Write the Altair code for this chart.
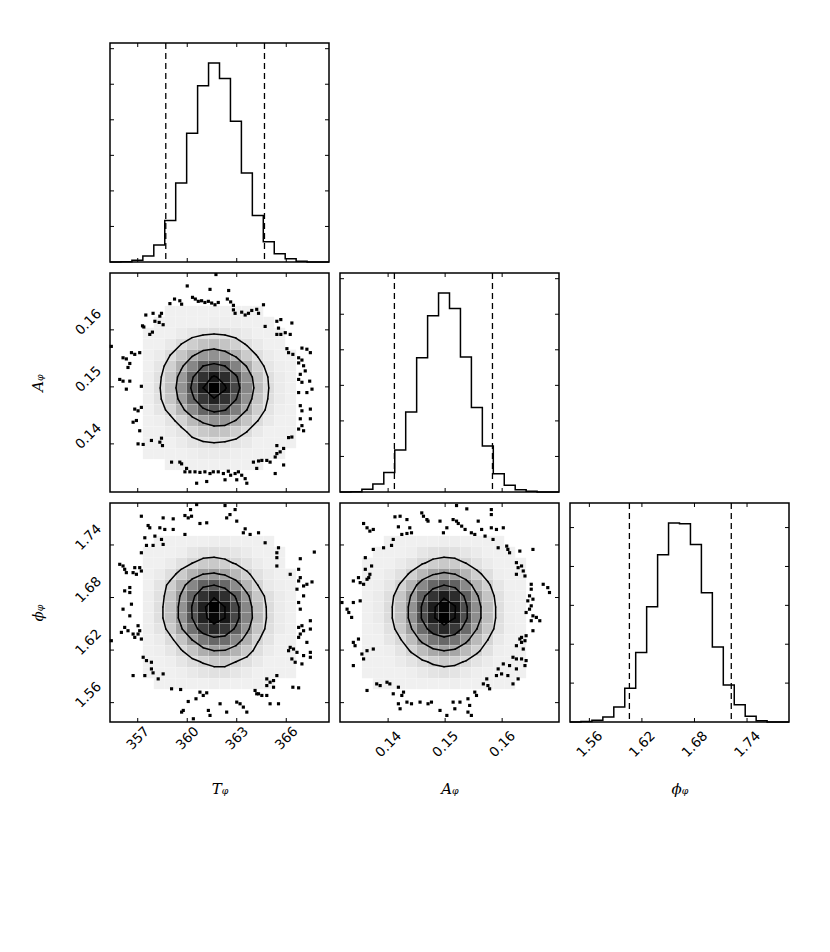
import altair as alt
import numpy as np
import pandas as pd

# ---------------- data ----------------
T_range = [355.32, 368.59]
A_range = [0.13156, 0.16997]
P_range = [1.5379, 1.7879]

T_ticks = [357, 360, 363, 366]
A_ticks = [0.14, 0.15, 0.16]
P_ticks = [1.56, 1.62, 1.68, 1.74]

T_title = "Tᵩ"
A_title = "Aᵩ"
P_title = "ϕᵩ"

T_counts = [0, 10, 50, 170, 480, 1170, 2220, 3620, 4960, 5600, 5160, 3960, 2500, 1310, 570, 230, 90, 20, 0, 0]
A_counts = [0, 10, 75, 225, 545, 1180, 2250, 3775, 4960, 5600, 5160, 3800, 2375, 1295, 515, 190, 65, 20, 0, 0]
P_counts = [0, 10, 45, 130, 385, 870, 1785, 2965, 4300, 5120, 5100, 4565, 3325, 1930, 950, 445, 145, 35, 0, 0]

T_quantiles = [358.70, 364.68]
A_quantiles = [0.1411, 0.1583]
P_quantiles = [1.6057, 1.7220]

# 2-D histogram darkness (percent of peak); rows top -> bottom, columns left -> right
grid_TA = [
    [0] * 20,
    [0] * 20,
    [0] * 20,
    [0, 0, 0, 0, 0, 2, 2, 2, 2, 2, 2, 2, 2, 2, 0, 0, 0, 0, 0, 0],
    [0, 0, 0, 0, 2, 2, 2, 2, 2, 3, 3, 3, 2, 2, 2, 0, 0, 0, 0, 0],
    [0, 0, 0, 2, 2, 2, 4, 6, 8, 9, 8, 6, 4, 2, 2, 2, 0, 0, 0, 0],
    [0, 0, 0, 2, 2, 5, 10, 16, 21, 23, 20, 15, 9, 5, 2, 2, 0, 0, 0, 0],
    [0, 0, 0, 2, 4, 10, 19, 29, 38, 41, 37, 28, 17, 9, 4, 2, 2, 0, 0, 0],
    [0, 0, 0, 2, 6, 15, 28, 45, 62, 68, 62, 47, 30, 15, 6, 3, 2, 0, 0, 0],
    [0, 0, 0, 3, 8, 19, 37, 60, 80, 90, 82, 65, 41, 21, 9, 4, 2, 0, 0, 0],
    [0, 0, 0, 3, 9, 21, 40, 65, 88, 100, 90, 71, 45, 23, 10, 4, 2, 0, 0, 0],
    [0, 0, 0, 3, 8, 19, 36, 58, 78, 87, 80, 63, 40, 20, 9, 4, 2, 0, 0, 0],
    [0, 0, 0, 2, 6, 13, 26, 43, 59, 67, 63, 49, 31, 16, 7, 3, 2, 0, 0, 0],
    [0, 0, 0, 2, 3, 7, 14, 24, 34, 40, 39, 30, 20, 10, 5, 2, 2, 0, 0, 0],
    [0, 0, 0, 2, 2, 4, 7, 13, 18, 21, 20, 16, 10, 5, 2, 2, 2, 0, 0, 0],
    [0, 0, 0, 2, 2, 2, 4, 7, 9, 10, 9, 7, 5, 2, 2, 2, 2, 0, 0, 0],
    [0, 0, 0, 2, 2, 2, 2, 3, 4, 4, 4, 3, 2, 2, 2, 2, 0, 0, 0, 0],
    [0, 0, 0, 0, 0, 2, 2, 2, 2, 2, 2, 2, 2, 2, 0, 0, 0, 0, 0, 0],
    [0] * 20,
    [0] * 20,
]

grid_TP = [
    [0] * 20,
    [0] * 20,
    [0] * 20,
    [0, 0, 0, 0, 2, 2, 2, 2, 2, 3, 3, 2, 2, 2, 2, 0, 0, 0, 0, 0],
    [0, 0, 0, 2, 2, 2, 3, 6, 8, 9, 8, 6, 4, 2, 2, 2, 0, 0, 0, 0],
    [0, 0, 0, 2, 2, 4, 8, 13, 17, 18, 16, 12, 8, 4, 2, 2, 0, 0, 0, 0],
    [0, 0, 0, 2, 4, 9, 17, 27, 35, 37, 33, 25, 15, 8, 4, 2, 2, 0, 0, 0],
    [0, 0, 0, 2, 7, 16, 29, 45, 60, 64, 57, 43, 26, 13, 5, 3, 2, 0, 0, 0],
    [0, 0, 0, 3, 8, 19, 37, 59, 80, 88, 81, 62, 39, 19, 9, 4, 2, 0, 0, 0],
    [0, 0, 0, 3, 9, 21, 40, 65, 87, 100, 90, 71, 45, 23, 10, 4, 2, 0, 0, 0],
    [0, 0, 0, 3, 9, 21, 40, 64, 86, 97, 90, 71, 46, 24, 10, 4, 2, 0, 0, 0],
    [0, 0, 0, 3, 7, 17, 33, 54, 74, 84, 78, 61, 39, 20, 9, 4, 2, 0, 0, 0],
    [0, 0, 0, 2, 4, 10, 20, 35, 50, 58, 56, 44, 28, 14, 7, 2, 2, 0, 0, 0],
    [0, 0, 0, 2, 3, 6, 12, 20, 29, 35, 34, 27, 18, 9, 4, 2, 2, 0, 0, 0],
    [0, 0, 0, 2, 2, 3, 6, 10, 14, 17, 17, 13, 9, 5, 2, 2, 2, 0, 0, 0],
    [0, 0, 0, 2, 2, 2, 3, 5, 7, 8, 8, 6, 4, 2, 2, 2, 2, 0, 0, 0],
    [0, 0, 0, 0, 2, 2, 2, 2, 2, 3, 2, 2, 2, 2, 2, 0, 0, 0, 0, 0],
    [0] * 20,
    [0] * 20,
    [0] * 20,
]

grid_AP = [
    [0] * 20,
    [0] * 20,
    [0] * 20,
    [0, 0, 0, 0, 2, 2, 2, 2, 2, 3, 3, 2, 2, 2, 2, 0, 0, 0, 0, 0],
    [0, 0, 0, 2, 2, 2, 3, 6, 8, 9, 8, 6, 4, 2, 2, 2, 0, 0, 0, 0],
    [0, 0, 2, 2, 2, 4, 7, 12, 16, 18, 17, 13, 8, 4, 2, 2, 2, 0, 0, 0],
    [0, 0, 2, 2, 4, 8, 15, 25, 34, 38, 35, 26, 16, 9, 3, 2, 2, 0, 0, 0],
    [0, 0, 2, 3, 6, 14, 26, 44, 58, 65, 60, 44, 27, 15, 6, 2, 2, 0, 0, 0],
    [0, 0, 2, 4, 9, 19, 36, 60, 79, 88, 82, 61, 37, 20, 8, 3, 2, 0, 0, 0],
    [0, 0, 2, 4, 10, 21, 40, 67, 88, 98, 91, 68, 42, 23, 9, 3, 2, 0, 0, 0],
    [0, 0, 2, 4, 10, 21, 40, 67, 88, 100, 90, 68, 42, 23, 9, 3, 2, 0, 0, 0],
    [0, 0, 2, 3, 8, 18, 34, 56, 75, 84, 77, 57, 35, 19, 8, 3, 2, 0, 0, 0],
    [0, 0, 2, 2, 6, 12, 23, 39, 52, 58, 53, 39, 24, 13, 5, 2, 2, 0, 0, 0],
    [0, 0, 2, 2, 3, 7, 14, 23, 31, 35, 32, 24, 15, 8, 3, 2, 2, 0, 0, 0],
    [0, 0, 2, 2, 2, 4, 7, 11, 15, 17, 16, 12, 7, 4, 2, 2, 2, 0, 0, 0],
    [0, 0, 2, 2, 2, 2, 3, 5, 7, 8, 7, 5, 3, 2, 2, 2, 2, 0, 0, 0],
    [0, 0, 0, 2, 2, 2, 2, 2, 2, 2, 3, 2, 2, 2, 2, 2, 0, 0, 0, 0],
    [0] * 20,
    [0] * 20,
    [0] * 20,
]

# outlying samples (x, y) in data units
TA_points = [
    (361.74, 0.1697), (360.00, 0.1677), (361.38, 0.1671), (362.51, 0.1669), (359.23, 0.1654), (359.55, 0.1651),
    (359.66, 0.1645), (358.95, 0.1646), (360.32, 0.1657), (360.49, 0.1654), (360.67, 0.1650), (360.87, 0.1651),
    (361.07, 0.1648), (361.28, 0.1650), (361.48, 0.1647), (361.68, 0.1644), (361.88, 0.1648), (362.43, 0.1654),
    (362.63, 0.1649), (362.80, 0.1643), (362.80, 0.1635), (362.90, 0.1629), (363.30, 0.1631), (363.51, 0.1626),
    (363.71, 0.1629), (363.91, 0.1634), (364.21, 0.1636), (364.32, 0.1629), (364.62, 0.1644), (364.72, 0.1606),
    (357.49, 0.1626), (357.93, 0.1629), (358.34, 0.1624), (358.44, 0.1629), (358.04, 0.1615), (358.30, 0.1613),
    (358.54, 0.1609), (357.29, 0.1607), (357.37, 0.1605), (357.73, 0.1592), (357.89, 0.1596),
    (365.43, 0.1615), (365.67, 0.1618), (366.34, 0.1612), (365.53, 0.1603), (365.43, 0.1592), (365.67, 0.1592),
    (365.94, 0.1595), (366.24, 0.1592),
    (366.04, 0.1567), (366.14, 0.1560), (366.40, 0.1557), (366.95, 0.1568), (367.25, 0.1566), (367.46, 0.1560),
    (366.75, 0.1551), (366.95, 0.1547), (366.75, 0.1542), (367.05, 0.1537), (367.15, 0.1528), (366.85, 0.1522),
    (366.75, 0.1513), (366.95, 0.1508), (367.42, 0.1510), (367.56, 0.1496), (367.25, 0.1490), (366.75, 0.1490),
    (366.85, 0.1467), (366.95, 0.1458), (367.46, 0.1461), (366.85, 0.1444), (367.46, 0.1444), (366.95, 0.1432),
    (366.75, 0.1426), (367.05, 0.1423),
    (355.40, 0.1571), (356.11, 0.1551), (356.31, 0.1549), (356.52, 0.1541), (356.62, 0.1560), (356.82, 0.1557),
    (357.12, 0.1560), (356.41, 0.1534), (355.91, 0.1513), (356.11, 0.1510), (356.52, 0.1510), (356.31, 0.1496),
    (357.22, 0.1501), (356.82, 0.1461), (357.02, 0.1458), (357.22, 0.1464), (356.72, 0.1438), (356.92, 0.1441),
    (357.12, 0.1423), (357.02, 0.1400), (357.33, 0.1399), (357.83, 0.1406), (358.34, 0.1403), (358.50, 0.1397),
    (358.44, 0.1410),
    (359.05, 0.1368), (359.55, 0.1368), (359.66, 0.1365), (359.96, 0.1357), (359.86, 0.1351), (360.16, 0.1351),
    (360.47, 0.1351), (360.77, 0.1350), (361.07, 0.1351), (361.38, 0.1348), (361.58, 0.1351), (361.88, 0.1351),
    (362.19, 0.1348), (362.49, 0.1352), (362.63, 0.1345), (362.90, 0.1348), (363.10, 0.1351), (363.30, 0.1345),
    (363.51, 0.1339), (360.57, 0.1331), (361.18, 0.1334), (362.29, 0.1337), (363.00, 0.1337), (363.61, 0.1331),
    (364.01, 0.1368), (364.32, 0.1370), (364.52, 0.1371), (364.82, 0.1371), (365.02, 0.1368), (364.21, 0.1357),
    (365.33, 0.1377), (365.43, 0.1383), (365.63, 0.1386), (365.84, 0.1392), (366.14, 0.1411), (366.34, 0.1412),
    (365.43, 0.1397), (365.84, 0.1363), (365.33, 0.1348),
]

TP_points = [
    (360.20, 1.7804), (360.57, 1.7861), (362.29, 1.7850), (362.90, 1.7804), (362.59, 1.7747), (362.39, 1.7709),
    (361.18, 1.7653), (360.77, 1.7645), (360.06, 1.7709), (359.86, 1.7736), (360.26, 1.7728), (358.54, 1.7709),
    (359.15, 1.7698), (357.22, 1.7728), (357.73, 1.7596), (357.63, 1.7622), (358.34, 1.7596), (358.64, 1.7577),
    (359.15, 1.7577), (359.86, 1.7520), (357.43, 1.7482), (358.04, 1.7501), (357.93, 1.7395), (357.53, 1.7395),
    (358.54, 1.7406), (358.44, 1.7463), (357.22, 1.7311), (363.51, 1.7584), (363.40, 1.7539), (363.81, 1.7520),
    (364.32, 1.7539), (363.00, 1.7672), (364.72, 1.7425),
    (365.53, 1.7368), (365.43, 1.7311), (365.43, 1.7255), (365.43, 1.7160), (367.70, 1.7319), (366.85, 1.7243),
    (366.75, 1.7122), (366.85, 1.7027), (366.75, 1.6989), (367.05, 1.6932), (367.56, 1.6978), (367.25, 1.6951),
    (366.24, 1.7065),
    (366.75, 1.6743), (366.85, 1.6667), (366.65, 1.6895), (367.05, 1.6819), (367.46, 1.6535), (366.95, 1.6478),
    (366.75, 1.6459), (366.85, 1.6383), (367.05, 1.6421), (367.46, 1.6440), (366.75, 1.6345), (367.25, 1.6288),
    (366.24, 1.6231), (366.14, 1.6193), (366.44, 1.6212), (366.65, 1.6174), (367.05, 1.6137), (367.46, 1.6174),
    (366.34, 1.6099), (366.54, 1.6061), (366.95, 1.6042), (367.46, 1.6118),
    (364.82, 1.5871), (365.02, 1.5833), (365.23, 1.5852), (364.82, 1.5795), (365.23, 1.5776), (364.11, 1.5739),
    (364.32, 1.5701), (364.52, 1.5682), (364.82, 1.5682), (365.43, 1.5909), (366.40, 1.5776), (366.75, 1.5769),
    (365.53, 1.5587), (365.02, 1.5587), (364.21, 1.5701),
    (363.00, 1.5606), (363.20, 1.5587), (363.40, 1.5549), (363.61, 1.5492), (362.39, 1.5492), (361.99, 1.5587),
    (361.28, 1.5511), (361.18, 1.5712), (360.77, 1.5720), (360.97, 1.5682), (361.38, 1.5454), (359.76, 1.5511),
    (359.66, 1.5492), (360.06, 1.5613), (360.53, 1.5644), (359.60, 1.5750), (359.05, 1.5758), (360.37, 1.5416),
    (356.72, 1.5909), (357.43, 1.5909), (357.83, 1.5985), (357.93, 1.5940), (358.24, 1.5871), (358.54, 1.5928),
    (357.33, 1.6118), (357.53, 1.6080), (357.83, 1.6061),
    (355.40, 1.6307), (356.01, 1.6402), (356.21, 1.6459), (356.41, 1.6421), (356.72, 1.6383), (356.82, 1.6345),
    (357.02, 1.6478), (357.12, 1.6421), (357.22, 1.6326), (357.02, 1.6383), (356.52, 1.6591), (356.11, 1.6667),
    (356.62, 1.6724), (356.52, 1.6857), (356.21, 1.6876), (356.52, 1.6914), (355.91, 1.7179), (356.11, 1.7160),
    (356.21, 1.7122), (356.31, 1.7084), (356.82, 1.7141), (356.72, 1.7084), (357.22, 1.7103), (357.12, 1.7141),
    (356.92, 1.7065),
]

AP_points = [
    (0.1520, 1.7850), (0.1538, 1.7812), (0.1581, 1.7804), (0.1581, 1.7747), (0.1459, 1.7766), (0.1462, 1.7728),
    (0.1468, 1.7690), (0.1470, 1.7672), (0.1412, 1.7721), (0.1421, 1.7728), (0.1433, 1.7690), (0.1438, 1.7596),
    (0.1418, 1.7607), (0.1357, 1.7645), (0.1363, 1.7596), (0.1374, 1.7577), (0.1368, 1.7558), (0.1424, 1.7520),
    (0.1433, 1.7531), (0.1441, 1.7539), (0.1491, 1.7672), (0.1503, 1.7596), (0.1497, 1.7539), (0.1514, 1.7690),
    (0.1520, 1.7672), (0.1523, 1.7645), (0.1529, 1.7615), (0.1535, 1.7577), (0.1546, 1.7539), (0.1558, 1.7672),
    (0.1552, 1.7520), (0.1564, 1.7577), (0.1570, 1.7501), (0.1581, 1.7596), (0.1590, 1.7577), (0.1602, 1.7596),
    (0.1409, 1.7463), (0.1406, 1.7395), (0.1392, 1.7368), (0.1374, 1.7349), (0.1360, 1.7255), (0.1584, 1.7463),
    (0.1593, 1.7368),
    (0.1608, 1.7387), (0.1610, 1.7349), (0.1613, 1.7311), (0.1631, 1.7330), (0.1654, 1.7349), (0.1625, 1.7198),
    (0.1628, 1.7141), (0.1634, 1.7160), (0.1637, 1.7103), (0.1625, 1.7065), (0.1640, 1.7046), (0.1651, 1.6951),
    (0.1651, 1.6895), (0.1672, 1.6951), (0.1680, 1.6913), (0.1683, 1.6857),
    (0.1648, 1.6819), (0.1645, 1.6762), (0.1654, 1.6781), (0.1651, 1.6705), (0.1648, 1.6667), (0.1642, 1.6629),
    (0.1654, 1.6591), (0.1660, 1.6573), (0.1651, 1.6535), (0.1666, 1.6535), (0.1654, 1.6421), (0.1642, 1.6364),
    (0.1634, 1.6345), (0.1631, 1.6326), (0.1640, 1.6307), (0.1625, 1.6250), (0.1634, 1.6288), (0.1637, 1.6212),
    (0.1619, 1.6118), (0.1625, 1.6099), (0.1634, 1.6099), (0.1642, 1.6080), (0.1640, 1.6023), (0.1625, 1.5985),
    (0.1613, 1.6023), (0.1602, 1.6042), (0.1593, 1.5985), (0.1599, 1.5928), (0.1590, 1.5909), (0.1610, 1.5909),
    (0.1628, 1.5871), (0.1619, 1.5814),
    (0.1573, 1.5871), (0.1567, 1.5814), (0.1575, 1.5795), (0.1578, 1.5758), (0.1552, 1.5720), (0.1555, 1.5682),
    (0.1540, 1.5644), (0.1543, 1.5568), (0.1540, 1.5492), (0.1546, 1.5454), (0.1526, 1.5606), (0.1514, 1.5606),
    (0.1517, 1.5530), (0.1491, 1.5511), (0.1503, 1.5454), (0.1476, 1.5606), (0.1470, 1.5587), (0.1456, 1.5606),
    (0.1441, 1.5587), (0.1433, 1.5606), (0.1418, 1.5587), (0.1421, 1.5530), (0.1409, 1.5701), (0.1424, 1.5682),
    (0.1427, 1.5720), (0.1418, 1.5776), (0.1398, 1.5833), (0.1403, 1.5814), (0.1386, 1.5795), (0.1380, 1.5814),
    (0.1363, 1.5739),
    (0.1339, 1.6023), (0.1357, 1.6099), (0.1354, 1.6155), (0.1363, 1.6193), (0.1374, 1.6212), (0.1342, 1.6250),
    (0.1348, 1.6326), (0.1339, 1.6288), (0.1336, 1.6573), (0.1331, 1.6629), (0.1328, 1.6667), (0.1339, 1.6743),
    (0.1351, 1.6762), (0.1319, 1.6743), (0.1339, 1.6989), (0.1348, 1.7027), (0.1351, 1.6970), (0.1357, 1.6951),
    (0.1363, 1.7008), (0.1366, 1.7027), (0.1368, 1.7065), (0.1371, 1.7160), (0.1360, 1.7122),
]

# ---------------- chart construction ----------------
SIZE = 219
TICK = 4
LABEL_FONT = "DejaVu Sans"
TITLE_FONT = "DejaVu Serif"
LINE_W = 1.5
FRAME = alt.ViewBackground(stroke="black", strokeWidth=1.5)


def lin(rng):
    return alt.Scale(domain=list(rng), nice=False, zero=False)


def x_axis(ticks, fmt, title, pad):
    return alt.Axis(values=ticks, format=fmt, labelAngle=-45, labelAlign="center",
                    labelBaseline="middle", labelPadding=pad, labelFont=LABEL_FONT,
                    labelFontSize=13.5, labelColor="black", labelOverlap=False, labelFlush=False,
                    ticks=False, domain=False, grid=False, title=title, titleFont=TITLE_FONT,
                    titleFontSize=15, titleFontStyle="italic", titleFontWeight="normal",
                    titleColor="black", titleY=66, titleBaseline="middle")


def y_axis(ticks, fmt, title):
    return alt.Axis(values=ticks, format=fmt, labelAngle=-45, labelAlign="center",
                    labelBaseline="middle", labelPadding=22, labelOffset=-8, labelFont=LABEL_FONT,
                    labelFontSize=13.5, labelColor="black", labelOverlap=False, labelFlush=False,
                    ticks=False, domain=False, grid=False, title=title, titleFont=TITLE_FONT,
                    titleFontSize=15, titleFontStyle="italic", titleFontWeight="normal",
                    titleColor="black", titleX=-73, titleBaseline="middle", titleAngle=-90)


def tick_marks(xs, ys, xticks, yticks, xaxis, yaxis):
    dx = pd.DataFrame({"t": xticks})
    dy = pd.DataFrame({"t": yticks})
    out = []
    for a, b in ((SIZE, SIZE - TICK), (0, TICK)):
        out.append(alt.Chart(dx).mark_rule(color="black", strokeWidth=1).encode(
            x=alt.X("t:Q", scale=xs, axis=xaxis), y=alt.value(a), y2=alt.value(b)))
    for a, b in ((0, TICK), (SIZE, SIZE - TICK)):
        out.append(alt.Chart(dy).mark_rule(color="black", strokeWidth=1).encode(
            y=alt.Y("t:Q", scale=ys, axis=yaxis), x=alt.value(a), x2=alt.value(b)))
    return out


def hist_panel(counts, rng, quant, ticks, xaxis):
    n = len(counts)
    edges = np.linspace(rng[0], rng[1], n + 1)
    ymax = 1.1 * max(counts)
    xs = lin(rng)
    ys = alt.Scale(domain=[0, ymax], nice=False, zero=True)
    step = pd.DataFrame({"x": edges, "y": list(counts) + [counts[-1]]})
    line = alt.Chart(step).mark_line(interpolate="step-after", color="black",
                                     strokeWidth=LINE_W).encode(
        x=alt.X("x:Q", scale=xs, axis=xaxis), y=alt.Y("y:Q", scale=ys, axis=None))
    q = alt.Chart(pd.DataFrame({"q": quant})).mark_rule(
        color="black", strokeWidth=1.3, strokeDash=[6, 4]).encode(
        x=alt.X("q:Q", scale=xs, axis=xaxis))
    yt = list(range(1000, int(ymax), 1000))
    return alt.layer(line, q, *tick_marks(xs, ys, ticks, yt, xaxis, None)).properties(
        width=SIZE, height=SIZE, view=FRAME)


def contour_segments(Hm, xc, yc, level):
    segs = []
    nx, ny = Hm.shape
    for i in range(nx - 1):
        for j in range(ny - 1):
            v = [Hm[i, j], Hm[i + 1, j], Hm[i + 1, j + 1], Hm[i, j + 1]]
            p = [(xc[i], yc[j]), (xc[i + 1], yc[j]), (xc[i + 1], yc[j + 1]), (xc[i], yc[j + 1])]
            above = [val > level for val in v]
            if all(above) or not any(above):
                continue

            def cross(e):
                a, b = e, (e + 1) % 4
                t = (level - v[a]) / (v[b] - v[a])
                return (p[a][0] + t * (p[b][0] - p[a][0]), p[a][1] + t * (p[b][1] - p[a][1]))

            edges = [e for e in range(4) if above[e] != above[(e + 1) % 4]]
            if len(edges) == 2:
                segs.append(cross(edges[0]) + cross(edges[1]))
            else:
                centre = sum(v) / 4.0 > level
                for k in range(4):
                    if above[k] != centre:
                        segs.append(cross((k - 1) % 4) + cross(k))
    return segs


def corner_panel(grid, points, xr, yr, xt, yt, xaxis, yaxis):
    xs, ys = lin(xr), lin(yr)
    n = len(grid)
    xe = np.linspace(xr[0], xr[1], n + 1)
    ye = np.linspace(yr[0], yr[1], n + 1)
    cells = []
    for r, row in enumerate(grid):
        j = n - 1 - r
        for i, v in enumerate(row):
            if v > 0:
                g = int(round(245 * (1 - v / 100.0)))
                cells.append(dict(x0=xe[i], x1=xe[i + 1], y0=ye[j], y1=ye[j + 1],
                                  c="#%02x%02x%02x" % (g, g, g)))
    cdf = pd.DataFrame(cells)
    rect = alt.Chart(cdf).mark_rect(stroke="white", strokeWidth=0.3, strokeOpacity=0.35).encode(
        x=alt.X("x0:Q", scale=xs, axis=xaxis), x2="x1",
        y=alt.Y("y0:Q", scale=ys, axis=yaxis), y2="y1",
        color=alt.Color("c:N", scale=None, legend=None))
    pdf = pd.DataFrame(points, columns=["x", "y"])
    pts = alt.Chart(pdf).mark_square(size=10, color="black", opacity=1).encode(
        x=alt.X("x:Q", scale=xs, axis=xaxis), y=alt.Y("y:Q", scale=ys, axis=yaxis))

    Hm = np.array(grid, dtype=float)[::-1].T
    xc = 0.5 * (xe[1:] + xe[:-1])
    yc = 0.5 * (ye[1:] + ye[:-1])
    sig = np.array([0.5, 1.0, 1.5, 2.0])
    V = 1.0 - np.exp(-0.5 * sig ** 2)
    flat = np.sort(Hm.flatten())[::-1]
    cum = np.cumsum(flat)
    cum = cum / cum[-1]
    segs = []
    for v0 in V:
        sel = flat[cum <= v0]
        lev = sel[-1] if len(sel) else flat[0]
        segs += contour_segments(Hm, xc, yc, lev)
    sdf = pd.DataFrame(segs, columns=["xa", "ya", "xb", "yb"])
    cont = alt.Chart(sdf).mark_rule(color="black", strokeWidth=LINE_W, strokeCap="round").encode(
        x=alt.X("xa:Q", scale=xs, axis=xaxis), x2="xb",
        y=alt.Y("ya:Q", scale=ys, axis=yaxis), y2="yb")
    return alt.layer(rect, pts, cont, *tick_marks(xs, ys, xt, yt, xaxis, yaxis)).properties(
        width=SIZE, height=SIZE, view=FRAME)


def blank():
    return alt.Chart(pd.DataFrame({"b": [0]})).mark_point(opacity=0).encode(
        x=alt.X("b:Q", axis=None), y=alt.Y("b:Q", axis=None)).properties(
        width=SIZE, height=SIZE, view=alt.ViewBackground(stroke="transparent", strokeWidth=0))


hist_T = hist_panel(T_counts, T_range, T_quantiles, T_ticks, None)
hist_A = hist_panel(A_counts, A_range, A_quantiles, A_ticks, None)
hist_P = hist_panel(P_counts, P_range, P_quantiles, P_ticks, x_axis(P_ticks, ".2f", P_title, 22))

TA = corner_panel(grid_TA, TA_points, T_range, A_range, T_ticks, A_ticks,
                  None, y_axis(A_ticks, ".2f", A_title))
TP = corner_panel(grid_TP, TP_points, T_range, P_range, T_ticks, P_ticks,
                  x_axis(T_ticks, "d", T_title, 16), y_axis(P_ticks, ".2f", P_title))
AP = corner_panel(grid_AP, AP_points, A_range, P_range, A_ticks, P_ticks,
                  x_axis(A_ticks, ".2f", A_title, 22), None)

chart = alt.concat(
    hist_T, blank(), blank(),
    TA, hist_A, blank(),
    TP, AP, hist_P,
    columns=3, spacing=11, bounds="flush",
).properties(
    padding={"left": 21, "top": 33, "right": 10, "bottom": 10},
    background="white",
).resolve_scale(x="independent", y="independent")

chart.save("out.html", embed_options={"renderer": "svg", "actions": False})
